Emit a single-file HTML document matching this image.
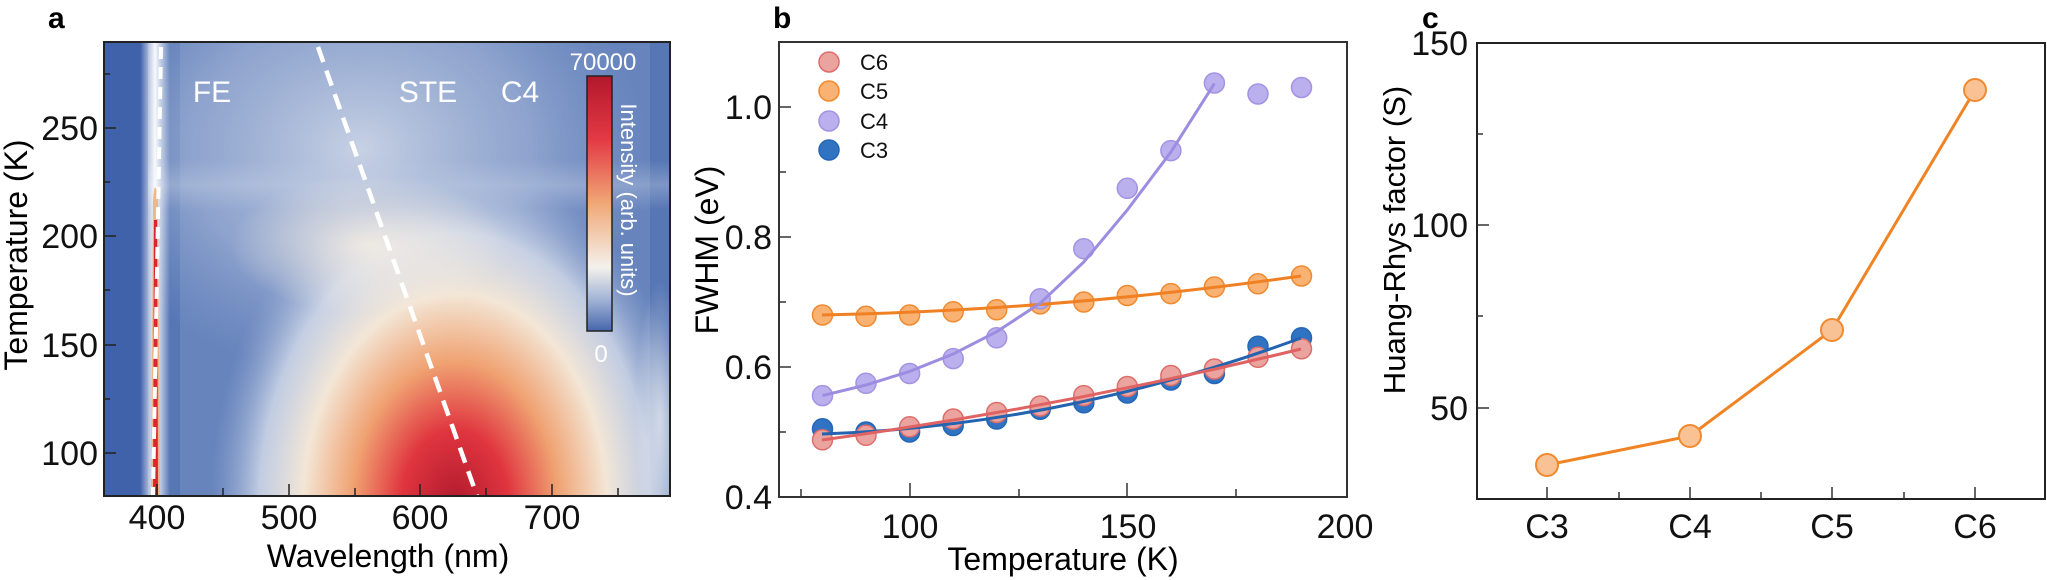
<!DOCTYPE html>
<html><head><meta charset="utf-8"><style>
html,body{margin:0;padding:0;background:#fff;overflow:hidden;width:2047px;height:580px;}
svg{display:block;}
text{font-family:"Liberation Sans",sans-serif;}
.n{font-family:"Liberation Sans Narrow","Liberation Sans",sans-serif;}
</style></head><body>
<svg width="2047" height="580" viewBox="0 0 2047 580" xmlns="http://www.w3.org/2000/svg">
<defs>
<clipPath id="ca"><rect x="104" y="42" width="566" height="454"/></clipPath>
<radialGradient id="glow" cx="0" cy="0" r="1" gradientUnits="userSpaceOnUse" gradientTransform="translate(455 505) scale(245 340)">
<stop offset="0" stop-color="#b01a2e"/>
<stop offset="0.22" stop-color="#e0353f"/>
<stop offset="0.42" stop-color="#f0a272"/>
<stop offset="0.62" stop-color="#f3e6d6"/>
<stop offset="0.8" stop-color="#dfe4ee" stop-opacity="0.75"/>
<stop offset="1" stop-color="#9fb2d6" stop-opacity="0"/>
</radialGradient>
<radialGradient id="glow2" cx="0" cy="0" r="1" gradientUnits="userSpaceOnUse" gradientTransform="translate(370 245) scale(140 70)">
<stop offset="0" stop-color="#f4ede3" stop-opacity="0.9"/>
<stop offset="1" stop-color="#f4ede3" stop-opacity="0"/>
</radialGradient>
<radialGradient id="haze" cx="0" cy="0" r="1" gradientUnits="userSpaceOnUse" gradientTransform="translate(360 150) scale(290 230)">
<stop offset="0" stop-color="#d8dfeb" stop-opacity="0.85"/>
<stop offset="0.6" stop-color="#b3c1dd" stop-opacity="0.5"/>
<stop offset="1" stop-color="#8ea5cf" stop-opacity="0"/>
</radialGradient>
<radialGradient id="rs" cx="0" cy="0" r="1" gradientUnits="userSpaceOnUse" gradientTransform="translate(660 420) scale(25 140)">
<stop offset="0" stop-color="#eef0f2" stop-opacity="0.7"/>
<stop offset="1" stop-color="#eef0f2" stop-opacity="0"/>
</radialGradient>
<linearGradient id="cb" x1="0" y1="0" x2="0" y2="1">
<stop offset="0" stop-color="#b2182b"/>
<stop offset="0.25" stop-color="#e33a45"/>
<stop offset="0.5" stop-color="#f1a877"/>
<stop offset="0.75" stop-color="#f4f1ec"/>
<stop offset="0.88" stop-color="#9fb2d6"/>
<stop offset="1" stop-color="#4666ac"/>
</linearGradient>
<linearGradient id="fe" x1="0" y1="0" x2="1" y2="0">
<stop offset="0" stop-color="#fff" stop-opacity="0"/>
<stop offset="0.5" stop-color="#fff" stop-opacity="0.95"/>
<stop offset="1" stop-color="#fff" stop-opacity="0"/>
</linearGradient>
<linearGradient id="band" x1="0" y1="0" x2="0" y2="1">
<stop offset="0" stop-color="#c9d3e6" stop-opacity="0"/>
<stop offset="0.5" stop-color="#c9d3e6" stop-opacity="0.35"/>
<stop offset="1" stop-color="#c9d3e6" stop-opacity="0"/>
</linearGradient>
</defs>

<!-- Panel a -->
<text x="48" y="28" font-size="30" font-weight="bold" class="n">a</text>
<g clip-path="url(#ca)">
<rect x="104" y="42" width="566" height="454" fill="#5676b4"/>
<rect x="180" y="42" width="470" height="454" fill="#7d97c8" opacity="0.45"/>
<rect x="104" y="42" width="566" height="454" fill="url(#haze)"/>
<rect x="104" y="160" width="566" height="50" fill="url(#band)"/>
<rect x="104" y="42" width="566" height="454" fill="url(#glow)"/>
<rect x="104" y="42" width="566" height="454" fill="url(#glow2)"/>
<rect x="600" y="280" width="70" height="216" fill="url(#rs)"/>
<rect x="104" y="42" width="44" height="454" fill="#3f62aa"/>
<rect x="140" y="42" width="30" height="454" fill="url(#fe)"/>
<path d="M151,496 L153,200 Q155,175 158,200 L160,496 Z" fill="#f0b07a" opacity="0.9"/>
<path d="M153,496 L154,220 L157,220 L158,496 Z" fill="#d8252f"/>
<line x1="161" y1="47" x2="153" y2="496" stroke="#fff" stroke-width="4" stroke-dasharray="12,8"/>
<line x1="318" y1="47" x2="477" y2="496" stroke="#fff" stroke-width="4.5" stroke-dasharray="16,9"/>
</g>
<rect x="104" y="42" width="566" height="454" fill="none" stroke="#222" stroke-width="2"/>
<text x="212" y="102" font-size="30" fill="#fff" text-anchor="middle">FE</text>
<text x="428" y="102" font-size="30" fill="#fff" text-anchor="middle">STE</text>
<text x="520" y="102" font-size="30" fill="#fff" text-anchor="middle">C4</text>
<rect x="587" y="76" width="25" height="255" fill="url(#cb)" stroke="#222" stroke-width="1.5"/>
<text x="603" y="70" font-size="24" fill="#fff" text-anchor="middle" class="n">70000</text>
<text x="601" y="362" font-size="24" fill="#fff" text-anchor="middle" class="n">0</text>
<text transform="translate(621 200) rotate(90)" font-size="22" fill="#fff" text-anchor="middle">Intensity (arb. units)</text>
<g stroke="#222" stroke-width="1.5">
<line x1="157" y1="496" x2="157" y2="484"/><line x1="223" y1="496" x2="223" y2="488"/>
<line x1="289" y1="496" x2="289" y2="484"/><line x1="355" y1="496" x2="355" y2="488"/>
<line x1="420" y1="496" x2="420" y2="484"/><line x1="486" y1="496" x2="486" y2="488"/>
<line x1="552" y1="496" x2="552" y2="484"/><line x1="618" y1="496" x2="618" y2="488"/>
<line x1="104" y1="453" x2="116" y2="453"/><line x1="104" y1="399" x2="110" y2="399"/>
<line x1="104" y1="345" x2="116" y2="345"/><line x1="104" y1="290" x2="110" y2="290"/>
<line x1="104" y1="236" x2="116" y2="236"/><line x1="104" y1="182" x2="110" y2="182"/>
<line x1="104" y1="128" x2="116" y2="128"/><line x1="104" y1="74" x2="110" y2="74"/>
</g>
<g font-size="34" class="n" text-anchor="middle" fill="#111">
<text x="157" y="529">400</text><text x="289" y="529">500</text><text x="420" y="529">600</text><text x="552" y="529">700</text>
</g>
<g font-size="34" class="n" text-anchor="end" fill="#111">
<text x="98" y="465">100</text><text x="98" y="357">150</text><text x="98" y="248">200</text><text x="98" y="140">250</text>
</g>
<text x="388" y="567" font-size="32" text-anchor="middle">Wavelength (nm)</text>
<text transform="translate(27 255) rotate(-90)" font-size="32" text-anchor="middle">Temperature (K)</text>

<!-- Panel b -->
<text x="773" y="28" font-size="30" font-weight="bold" class="n">b</text>
<rect x="779" y="42" width="568" height="455" fill="none" stroke="#333" stroke-width="2"/>
<g stroke="#333" stroke-width="1.5">
<line x1="801" y1="497" x2="801" y2="489"/><line x1="910" y1="497" x2="910" y2="483"/>
<line x1="1019" y1="497" x2="1019" y2="489"/><line x1="1127" y1="497" x2="1127" y2="483"/>
<line x1="1236" y1="497" x2="1236" y2="489"/>
<line x1="779" y1="432" x2="786" y2="432"/><line x1="779" y1="367" x2="791" y2="367"/>
<line x1="779" y1="302" x2="786" y2="302"/><line x1="779" y1="237" x2="791" y2="237"/>
<line x1="779" y1="172" x2="786" y2="172"/><line x1="779" y1="107" x2="791" y2="107"/>
</g>
<g font-size="34" class="n" text-anchor="end" fill="#111">
<text x="772" y="509">0.4</text><text x="772" y="379">0.6</text><text x="772" y="249">0.8</text><text x="772" y="119">1.0</text>
</g>
<g font-size="34" class="n" text-anchor="middle" fill="#111">
<text x="910" y="538">100</text><text x="1128" y="538">150</text><text x="1345" y="538">200</text>
</g>
<text x="1063" y="570" font-size="32" text-anchor="middle">Temperature (K)</text>
<text transform="translate(718 250) rotate(-90)" font-size="32" text-anchor="middle">FWHM (eV)</text>

<g fill="#2f73c2" stroke="#2566b5" stroke-width="1.5">
<circle cx="822.5" cy="428.8" r="10"/><circle cx="866" cy="432" r="10"/><circle cx="909.6" cy="432" r="10"/>
<circle cx="953.2" cy="425.5" r="10"/><circle cx="996.7" cy="419" r="10"/><circle cx="1040.2" cy="409.3" r="10"/>
<circle cx="1083.8" cy="402.8" r="10"/><circle cx="1127.3" cy="393" r="10"/><circle cx="1170.9" cy="380" r="10"/>
<circle cx="1214.4" cy="373.5" r="10"/><circle cx="1258" cy="346.2" r="10"/><circle cx="1301.5" cy="337.8" r="10"/>
</g>
<g fill="#eba39f" stroke="#dc6e6a" stroke-width="1.5">
<circle cx="822.5" cy="439.8" r="10"/><circle cx="866" cy="435.3" r="10"/><circle cx="909.6" cy="426.8" r="10"/>
<circle cx="953.2" cy="419" r="10"/><circle cx="996.7" cy="412.5" r="10"/><circle cx="1040.2" cy="406" r="10"/>
<circle cx="1083.8" cy="395.6" r="10"/><circle cx="1127.3" cy="386.5" r="10"/><circle cx="1170.9" cy="375.5" r="10"/>
<circle cx="1214.4" cy="369" r="10"/><circle cx="1258" cy="357.3" r="10"/><circle cx="1301.5" cy="348.8" r="10"/>
</g>
<g fill="#f9b272" stroke="#f08a30" stroke-width="1.5">
<circle cx="822.5" cy="315" r="10"/><circle cx="866" cy="316.3" r="10"/><circle cx="909.6" cy="315" r="10"/>
<circle cx="953.2" cy="311.8" r="10"/><circle cx="996.7" cy="309.8" r="10"/><circle cx="1040.2" cy="303.9" r="10"/>
<circle cx="1083.8" cy="302" r="10"/><circle cx="1127.3" cy="295.5" r="10"/><circle cx="1170.9" cy="293.6" r="10"/>
<circle cx="1214.4" cy="287" r="10"/><circle cx="1258" cy="283.8" r="10"/><circle cx="1301.5" cy="276" r="10"/>
</g>
<g fill="#bbb0ee" stroke="#a393e2" stroke-width="1.5">
<circle cx="822.5" cy="395.6" r="10"/><circle cx="866" cy="383.3" r="10"/><circle cx="909.6" cy="373.5" r="10"/>
<circle cx="953.2" cy="358.6" r="10"/><circle cx="996.7" cy="337.8" r="10"/><circle cx="1040.2" cy="298.8" r="10"/>
<circle cx="1083.8" cy="248.7" r="10"/><circle cx="1127.3" cy="188.3" r="10"/><circle cx="1170.9" cy="150.6" r="10"/>
<circle cx="1214.4" cy="83" r="10"/><circle cx="1258" cy="94" r="10"/><circle cx="1301.5" cy="87.5" r="10"/>
</g>
<g fill="none" stroke-width="3">
<path d="M822,434 Q1062,426 1301,338" stroke="#2363b0"/>
<path d="M822,440 Q1062,407 1301,349" stroke="#e06262"/>
<path d="M822,315 Q1062,310 1301,276" stroke="#f08024"/>
<polyline points="822.5,395.6 866,385 909.6,371.4 953.2,354 996.7,331.7 1040.2,303.2 1083.8,262 1127.3,210 1170.9,152 1214.4,83.6" stroke="#9d8de0"/>
</g>
<circle cx="829" cy="62" r="10" fill="#eba39f" stroke="#dc6e6a" stroke-width="1.5"/>
<circle cx="829" cy="91" r="10" fill="#f9b272" stroke="#f08a30" stroke-width="1.5"/>
<circle cx="829" cy="121" r="10" fill="#bbb0ee" stroke="#a393e2" stroke-width="1.5"/>
<circle cx="829" cy="150" r="10" fill="#2f73c2" stroke="#2566b5" stroke-width="1.5"/>
<g font-size="22" class="n" fill="#111">
<text x="860" y="70">C6</text><text x="860" y="99">C5</text><text x="860" y="129">C4</text><text x="860" y="158">C3</text>
</g>

<!-- Panel c -->
<text x="1422" y="28" font-size="30" font-weight="bold" class="n">c</text>
<rect x="1477" y="43" width="568" height="456" fill="none" stroke="#222" stroke-width="2"/>
<g stroke="#333" stroke-width="1.5">
<line x1="1547" y1="499" x2="1547" y2="487"/><line x1="1619" y1="499" x2="1619" y2="492"/>
<line x1="1690" y1="499" x2="1690" y2="487"/><line x1="1761" y1="499" x2="1761" y2="492"/>
<line x1="1832" y1="499" x2="1832" y2="487"/><line x1="1904" y1="499" x2="1904" y2="492"/>
<line x1="1975" y1="499" x2="1975" y2="487"/>
<line x1="1477" y1="408" x2="1489" y2="408"/><line x1="1477" y1="316" x2="1483" y2="316"/>
<line x1="1477" y1="225" x2="1489" y2="225"/><line x1="1477" y1="134" x2="1483" y2="134"/>
</g>
<g font-size="34" class="n" text-anchor="end" fill="#111">
<text x="1468" y="420">50</text><text x="1468" y="237">100</text><text x="1468" y="55">150</text>
</g>
<g font-size="34" class="n" text-anchor="middle" fill="#111">
<text x="1547" y="538">C3</text><text x="1690" y="538">C4</text><text x="1832" y="538">C5</text><text x="1975" y="538">C6</text>
</g>
<text transform="translate(1405 240) rotate(-90)" font-size="31" text-anchor="middle">Huang-Rhys factor (S)</text>
<polyline points="1547,465 1690,436 1832,330 1975,90" fill="none" stroke="#f08424" stroke-width="3"/>
<g fill="#f9c294" stroke="#f08a30" stroke-width="2">
<circle cx="1547" cy="465" r="11"/>
<circle cx="1690" cy="436" r="11"/>
<circle cx="1832" cy="330" r="11"/>
<circle cx="1975" cy="90" r="11"/>
</g>
</svg>
</body></html>
